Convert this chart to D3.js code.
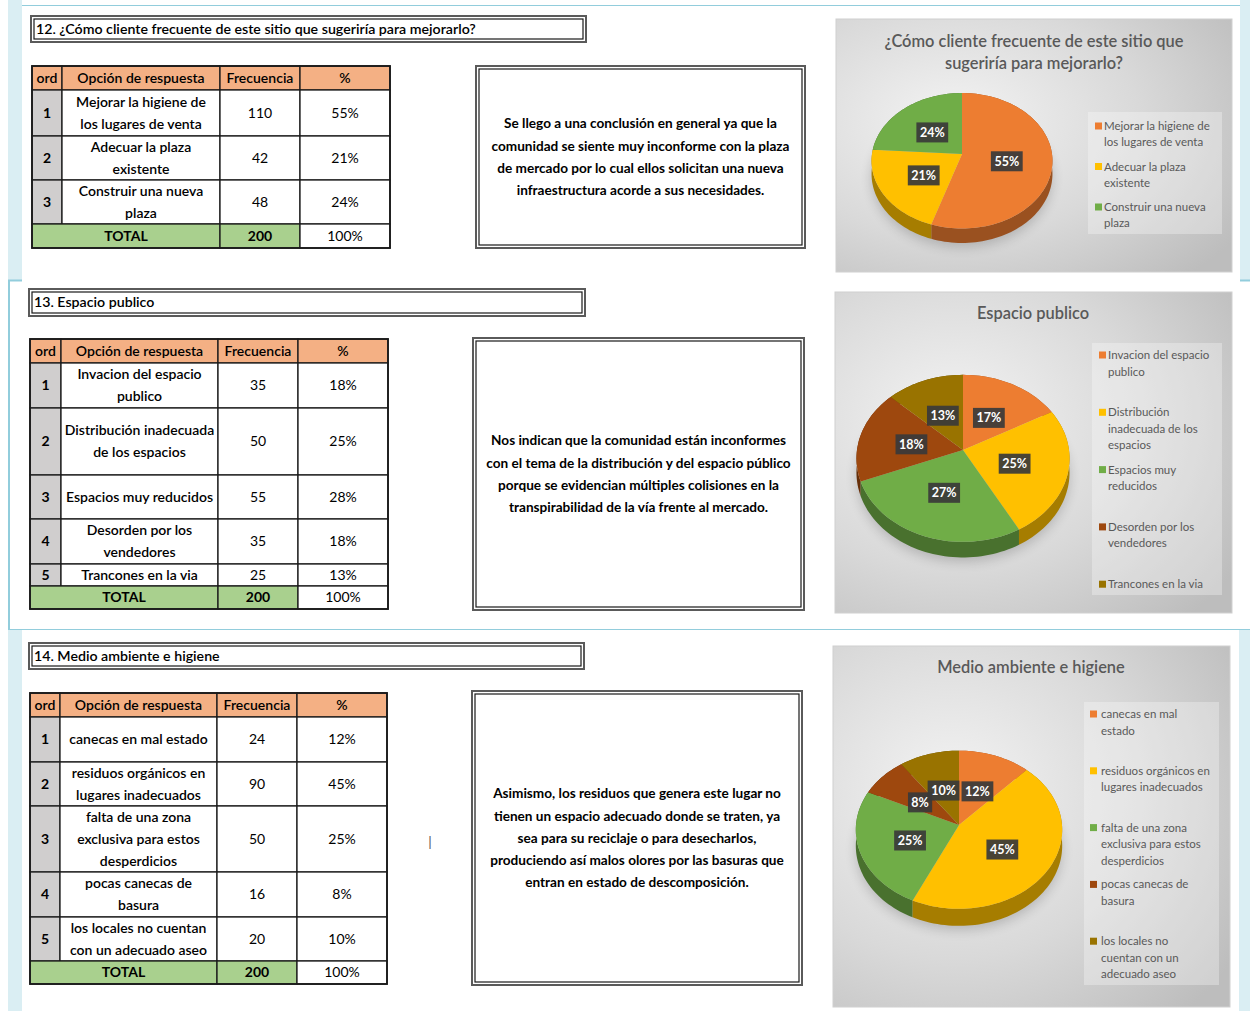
<!DOCTYPE html>
<html>
<head>
<meta charset="utf-8">
<script src="https://cdn.jsdelivr.net/npm/d3@7"></script>
<style>
  body { margin: 0; background: #fff; }
  svg text { font-family: Lato, "Open Sans", sans-serif; }
</style>
</head>
<body>
<svg id="page" width="1250" height="1011"></svg>
<script>
// ---- data ----
const headers = ["ord", "Opción de respuesta", "Frecuencia", "%"]
const colors = ["#ed7d31", "#ffc000", "#70ad47", "#9e480e", "#997300"]

const q12Title = "12. ¿Cómo cliente frecuente de este sitio que sugeriría para mejorarlo?"
const q12Options = [["Mejorar la higiene de", "los lugares de venta"], ["Adecuar la plaza", "existente"], ["Construir una nueva", "plaza"]]
const q12Freq = [110, 42, 48]
const q12Pct = ["55%", "21%", "24%"]
const q12Note = ["Se llego a una conclusión en general ya que la", "comunidad se siente muy inconforme con la plaza", "de mercado por lo cual ellos solicitan una nueva", "infraestructura acorde a sus necesidades."]
const q12ChartTitle = ["¿Cómo cliente frecuente de este sitio que", "sugeriría para mejorarlo?"]
const q12Legend = [["Mejorar la higiene de", "los lugares de venta"], ["Adecuar la plaza", "existente"], ["Construir una nueva", "plaza"]]
const q12Slices = [55, 21, 24]

const q13Title = "13. Espacio publico"
const q13Options = [["Invacion del espacio", "publico"], ["Distribución inadecuada", "de los espacios"], ["Espacios muy reducidos"], ["Desorden por los", "vendedores"], ["Trancones en la via"]]
const q13Freq = [35, 50, 55, 35, 25]
const q13Pct = ["18%", "25%", "28%", "18%", "13%"]
const q13Note = ["Nos indican que la comunidad están inconformes", "con el tema de la distribución y del espacio público", "porque se evidencian múltiples colisiones en la", "transpirabilidad de la vía frente al mercado."]
const q13ChartTitle = ["Espacio publico"]
const q13Legend = [["Invacion del espacio", "publico"], ["Distribución", "inadecuada de los", "espacios"], ["Espacios muy", "reducidos"], ["Desorden por los", "vendedores"], ["Trancones en la via"]]
const q13Slices = [17, 25, 27, 18, 13]

const q14Title = "14. Medio ambiente e higiene"
const q14Options = [["canecas en mal estado"], ["residuos orgánicos en", "lugares inadecuados"], ["falta de una zona", "exclusiva para estos", "desperdicios"], ["pocas canecas de", "basura"], ["los locales no cuentan", "con un adecuado aseo"]]
const q14Freq = [24, 90, 50, 16, 20]
const q14Pct = ["12%", "45%", "25%", "8%", "10%"]
const q14Note = ["Asimismo, los residuos que genera este lugar no", "tienen un espacio adecuado donde se traten, ya", "sea para su reciclaje o para desecharlos,", "produciendo así malos olores por las basuras que", "entran en estado de descomposición."]
const q14ChartTitle = ["Medio ambiente e higiene"]
const q14Legend = [["canecas en mal", "estado"], ["residuos orgánicos en", "lugares inadecuados"], ["falta de una zona", "exclusiva para estos", "desperdicios"], ["pocas canecas de", "basura"], ["los locales no", "cuentan con un", "adecuado aseo"]]
const q14Slices = [12, 45, 25, 8, 10]

// ---- page ----
const svg = d3.select('#page')
const defs = svg.append('defs')
svg.append('rect').attr('width', 1250).attr('height', 1011).attr('fill', '#fff')

// word-page section decoration
const deco = svg.append('g')
const light = '#daeef3', teal = '#92cddc'
deco.append('rect').attr('x', 8).attr('y', 0).attr('width', 14).attr('height', 280).attr('fill', light)
deco.append('rect').attr('x', 1240).attr('y', 0).attr('width', 10).attr('height', 280).attr('fill', light)
deco.append('line').attr('x1', 22).attr('x2', 1240).attr('y1', 5.5).attr('y2', 5.5).attr('stroke', teal)
deco.append('line').attr('x1', 8).attr('x2', 22).attr('y1', 280.5).attr('y2', 280.5).attr('stroke', teal).attr('stroke-width', 2)
deco.append('line').attr('x1', 1240).attr('x2', 1250).attr('y1', 280.5).attr('y2', 280.5).attr('stroke', teal).attr('stroke-width', 2)
deco.append('line').attr('x1', 9).attr('x2', 9).attr('y1', 280).attr('y2', 630).attr('stroke', teal).attr('stroke-width', 2)
deco.append('line').attr('x1', 8).attr('x2', 1250).attr('y1', 629.5).attr('y2', 629.5).attr('stroke', teal)
deco.append('rect').attr('x', 8).attr('y', 630).attr('width', 14).attr('height', 381).attr('fill', light)
deco.append('rect').attr('x', 1239).attr('y', 630).attr('width', 11).attr('height', 381).attr('fill', light)
deco.append('text').attr('x', 430).attr('y', 842).attr('dy', '0.35em').attr('text-anchor', 'middle')
    .attr('font-size', 14).attr('fill', '#555').text('|')

function doubleBox(g, b){
    g.append('rect').attr('x', b[0]).attr('y', b[1]).attr('width', b[2] - b[0]).attr('height', b[3] - b[1])
        .attr('fill', '#fff').attr('stroke', '#5a5a5a').attr('stroke-width', 2)
    g.append('rect').attr('x', b[0] + 3).attr('y', b[1] + 3).attr('width', b[2] - b[0] - 6).attr('height', b[3] - b[1] - 6)
        .attr('fill', 'none').attr('stroke', '#1a1a1a').attr('stroke-width', 1.2)
}

function drawTable(t){
    const g = svg.append('g')
    const L = t.layout
    doubleBox(g, L.box)
    g.append('text').attr('x', L.box[0] + 5).attr('y', (L.box[1] + L.box[3]) / 2).attr('dy', '0.35em')
        .attr('font-size', 14.2).attr('font-weight', 600).attr('fill', '#000').text(t.title)

    const ys = [L.y0, L.y0 + L.head]
    L.rows.forEach(h => ys.push(ys[ys.length - 1] + h))
    ys.push(ys[ys.length - 1] + L.total)
    const xs = L.x
    const n = t.options.length

    const cell = (c0, c1, r, fill) => g.append('rect')
        .attr('x', xs[c0]).attr('y', ys[r]).attr('width', xs[c1] - xs[c0]).attr('height', ys[r + 1] - ys[r])
        .attr('fill', fill).attr('stroke', '#1a1a1a').attr('stroke-width', 1.3)
    const label = (x, y, s, w) => g.append('text').attr('x', x).attr('y', y).attr('dy', '0.35em')
        .attr('text-anchor', 'middle').attr('font-size', 14).attr('font-weight', w || 400).attr('fill', '#000').text(s)
    const mid = (c) => (xs[c] + xs[c + 1]) / 2
    const midY = (r) => (ys[r] + ys[r + 1]) / 2

    headers.forEach((h, c) => { cell(c, c + 1, 0, '#f4b084'); label(mid(c), midY(0), h, 600) })
    t.options.forEach((opt, i) => {
        const r = i + 1
        cell(0, 1, r, '#d0cece'); cell(1, 2, r, '#fff'); cell(2, 3, r, '#fff'); cell(3, 4, r, '#fff')
        label(mid(0), midY(r), i + 1, 700)
        opt.forEach((line, j) => label(mid(1), midY(r) + (j - (opt.length - 1) / 2) * 22, line, 600))
        label(mid(2), midY(r), t.freq[i])
        label(mid(3), midY(r), t.pct[i])
    })
    const rt = n + 1
    cell(0, 2, rt, '#a9d08e'); cell(2, 3, rt, '#a9d08e'); cell(3, 4, rt, '#fff')
    label((xs[0] + xs[2]) / 2, midY(rt), 'TOTAL', 700)
    label(mid(2), midY(rt), d3.sum(t.freq), 700)
    label(mid(3), midY(rt), '100%')
    g.append('rect').attr('x', xs[0]).attr('y', ys[0]).attr('width', xs[4] - xs[0]).attr('height', ys[ys.length - 1] - ys[0])
        .attr('fill', 'none').attr('stroke', '#1a1a1a').attr('stroke-width', 1.8)
}

function drawNote(box, lines){
    const g = svg.append('g')
    doubleBox(g, box)
    const cx = (box[0] + box[2]) / 2, cy = (box[1] + box[3]) / 2
    lines.forEach((s, j) => g.append('text').attr('x', cx).attr('y', cy + (j - (lines.length - 1) / 2) * 22.2)
        .attr('dy', '0.35em').attr('text-anchor', 'middle').attr('font-size', 13.6).attr('font-weight', 700)
        .attr('fill', '#000').text(s))
}

function drawPie(c, id){
    const g = svg.append('g')
    const b = c.box
    const grad = defs.append('radialGradient').attr('id', 'bg' + id)
        .attr('cx', '30%').attr('cy', '40%').attr('r', '85%')
    grad.append('stop').attr('offset', 0).attr('stop-color', '#f3f3f3')
    grad.append('stop').attr('offset', 0.55).attr('stop-color', '#d9d9d9')
    grad.append('stop').attr('offset', 1).attr('stop-color', '#bdbdbd')
    g.append('rect').attr('x', b[0]).attr('y', b[1]).attr('width', b[2] - b[0]).attr('height', b[3] - b[1])
        .attr('fill', `url(#bg${id})`).attr('stroke', '#d0d0d0')

    c.title.forEach((s, j) => g.append('text').attr('x', c.titleX).attr('y', c.titleY[j]).attr('dy', '0.35em')
        .attr('text-anchor', 'middle').attr('font-size', 16.4).attr('font-weight', 600).attr('fill', '#595959').text(s))

    const P = c.pie
    const proj = (phi, r, drop) => {
        const X = r * Math.sin(phi), Z = r * Math.cos(phi)
        const s = 1 / (1 + P.k * Z / P.R)
        return [P.cx + X * s, P.cy - Z * P.sinE * s + (drop || 0) * s]
    }
    const arcPts = (a0, a1, r, drop) => {
        const n = Math.max(2, Math.ceil((a1 - a0) / (Math.PI / 90)))
        return d3.range(n + 1).map(i => proj(a0 + (a1 - a0) * i / n, r, drop))
    }
    const line = d3.line()
    const arcs = d3.pie().sort(null).value(d => d)(c.values)
    const total = d3.sum(c.values)

    // soft shadow under the pie
    const blur = defs.append('filter').attr('id', 'sh' + id).attr('x', '-30%').attr('y', '-30%').attr('width', '160%').attr('height', '160%')
    blur.append('feGaussianBlur').attr('stdDeviation', 6)
    g.append('path').attr('d', line(arcPts(0, 2 * Math.PI, P.R, P.h + 4)) + 'Z')
        .attr('fill', '#000').attr('opacity', 0.18).attr('filter', `url(#sh${id})`)

    // side walls, back to front
    const sides = arcs.map((a, i) => ({a, i})).sort((p, q) =>
        Math.cos((q.a.startAngle + q.a.endAngle) / 2) - Math.cos((p.a.startAngle + p.a.endAngle) / 2))
    sides.forEach(({a, i}) => {
        const top = arcPts(a.startAngle, a.endAngle, P.R, 0)
        const bot = arcPts(a.startAngle, a.endAngle, P.R, P.h).reverse()
        g.append('path').attr('d', line(top.concat(bot)) + 'Z').attr('fill', d3.color(colors[i]).darker(1.2))
    })

    // top faces
    arcs.forEach((a, i) => {
        const pts = [[P.cx, P.cy]].concat(arcPts(a.startAngle, a.endAngle, P.R, 0))
        g.append('path').attr('d', line(pts) + 'Z').attr('fill', colors[i])
    })

    // data labels
    const fmt = d3.format('.0%')
    arcs.forEach(a => {
        const p = proj((a.startAngle + a.endAngle) / 2, P.R * 0.5, 0)
        const s = fmt(a.value / total)
        const w = s.length * 7.6 + 9
        g.append('rect').attr('x', p[0] - w / 2).attr('y', p[1] + 2 - 10).attr('width', w).attr('height', 20)
            .attr('fill', '#3a3a3a').attr('opacity', 0.92)
        g.append('text').attr('x', p[0]).attr('y', p[1] + 2).attr('dy', '0.35em').attr('text-anchor', 'middle')
            .attr('font-size', 12.5).attr('font-weight', 700).attr('fill', '#fff').text(s)
    })

    // legend
    const Lg = c.legend
    g.append('rect').attr('x', Lg.x).attr('y', Lg.y).attr('width', Lg.w).attr('height', Lg.h)
        .attr('fill', '#fff').attr('opacity', 0.3)
    c.legendText.forEach((lines, i) => {
        const y = Lg.first + i * Lg.pitch
        g.append('rect').attr('x', Lg.sq).attr('y', y - 3.5).attr('width', 7).attr('height', 7).attr('fill', colors[i])
        lines.forEach((s, j) => g.append('text').attr('x', Lg.tx).attr('y', y + j * Lg.lh).attr('dy', '0.35em')
            .attr('font-size', 11.5).attr('fill', '#595959').text(s))
    })
}

drawTable({title: q12Title, options: q12Options, freq: q12Freq, pct: q12Pct,
    layout: {box: [31, 16, 586, 42], x: [32, 62, 220, 300, 390], y0: 66, head: 24, rows: [46, 44, 44], total: 24}})
drawTable({title: q13Title, options: q13Options, freq: q13Freq, pct: q13Pct,
    layout: {box: [29, 289, 585, 316], x: [30, 61, 218, 298, 388], y0: 339, head: 24, rows: [45, 67, 44, 45, 22], total: 23}})
drawTable({title: q14Title, options: q14Options, freq: q14Freq, pct: q14Pct,
    layout: {box: [29, 643, 584, 669], x: [30, 60, 217, 297, 387], y0: 693, head: 24, rows: [45, 44, 66, 45, 44], total: 23}})

drawNote([476, 66, 805, 248], q12Note)
drawNote([473, 338, 804, 610], q13Note)
drawNote([472, 691, 802, 985], q14Note)

drawPie({box: [836, 19, 1232, 272], title: q12ChartTitle, titleX: 1034, titleY: [41, 63], values: q12Slices, legendText: q12Legend,
    pie: {cx: 962, cy: 154, R: 90, sinE: 0.745, k: 0.1, h: 13},
    legend: {x: 1088, y: 112, w: 134, h: 122, sq: 1095, tx: 1104, first: 126, pitch: 40.5, lh: 16}}, 1)
drawPie({box: [835, 292, 1232, 613], title: q13ChartTitle, titleX: 1033, titleY: [313], values: q13Slices, legendText: q13Legend,
    pie: {cx: 963, cy: 450, R: 106, sinE: 0.78, k: 0.1, h: 14},
    legend: {x: 1092, y: 343, w: 130, h: 252, sq: 1099, tx: 1108, first: 355, pitch: 57.3, lh: 16.5}}, 2)
drawPie({box: [833, 646, 1230, 1007], title: q14ChartTitle, titleX: 1031, titleY: [667], values: q14Slices, legendText: q14Legend,
    pie: {cx: 959, cy: 825, R: 103, sinE: 0.765, k: 0.06, h: 16},
    legend: {x: 1084, y: 702, w: 135, h: 283, sq: 1090, tx: 1101, first: 714, pitch: 56.8, lh: 16.5}}, 3)
</script>
</body>
</html>
